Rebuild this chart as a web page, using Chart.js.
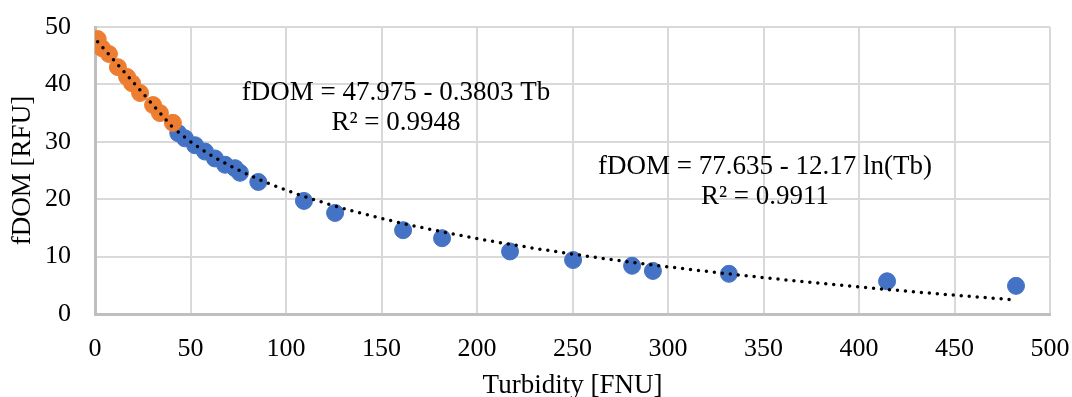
<!DOCTYPE html>
<html>
<head>
  <meta charset="utf-8" />
  <title>fDOM vs Turbidity</title>
  <script src="https://cdn.jsdelivr.net/npm/chart.js@4.4.1/dist/chart.umd.min.js"></script>
  <style>
    html, body { margin: 0; padding: 0; background: #ffffff; }
    #wrap { width: 1072px; height: 397px; }
  </style>
</head>
<body>
  <div id="wrap"><canvas id="chart"></canvas></div>
  <script>
    // orange points (low turbidity, linear fit)
    var lowTb   = [1.4, 3.7, 7.3, 12.0, 16.8, 19.4, 23.6, 30.4, 34.0, 40.8];
    var lowFdom = [47.9, 46.3, 45.3, 43.0, 41.3, 40.2, 38.5, 36.4, 35.0, 33.3];

    // blue points (log fit)
    var highTb   = [43.6, 47.1, 52.4, 57.6, 62.8, 68.1, 73.3, 75.9, 85.5, 109.4, 125.7, 161.3, 181.7, 217.3, 250.3, 281.2, 292.1, 331.9, 414.7, 482.2];
    var highFdom = [31.5, 30.6, 29.4, 28.3, 27.1, 26.0, 25.4, 24.6, 23.0, 19.7, 17.6, 14.6, 13.2, 10.9, 9.4, 8.4, 7.5, 7.0, 5.7, 4.9];

    // trendline coefficients as printed on the chart
    var linA = 47.975, linB = 0.3803;
    var logA = 77.635, logB = 12.17;

    var xTicks = [0, 50, 100, 150, 200, 250, 300, 350, 400, 450, 500];
    var yTicks = [0, 10, 20, 30, 40, 50];

    var labels = [
      { text: ["fDOM = 47.975 - 0.3803 Tb", "R² = 0.9948"], x: 157.6, y: 38.5 },
      { text: ["fDOM = 77.635 - 12.17 ln(Tb)", "R² = 0.9911"], x: 350.8, y: 25.6 }
    ];

    function pts(xs, ys) {
      return xs.map(function (x, i) { return { x: x, y: ys[i] }; });
    }

    var linLine = [lowTb[0], lowTb[lowTb.length - 1]].map(function (x) {
      return { x: x, y: linA - linB * x };
    });
    var logLine = [];
    var x0 = highTb[0], x1 = highTb[highTb.length - 1];
    for (var i = 0; i <= 120; i++) {
      var x = x0 + (x1 - x0) * i / 120;
      logLine.push({ x: x, y: logA - logB * Math.log(x) });
    }

    var FONT = "'Liberation Serif', 'Times New Roman', serif";

    var textPlugin = {
      id: 'eqText',
      afterDatasetsDraw: function (chart) {
        var ctx = chart.ctx, xs = chart.scales.x, ys = chart.scales.y;
        ctx.save();
        ctx.font = '27px ' + FONT;
        ctx.fillStyle = '#000';
        ctx.textAlign = 'center';
        ctx.textBaseline = 'middle';
        labels.forEach(function (l) {
          var px = xs.getPixelForValue(l.x), py = ys.getPixelForValue(l.y);
          l.text.forEach(function (t, k) { ctx.fillText(t, px, py + k * 30); });
        });
        ctx.restore();
      }
    };

    var dotted = {
      type: 'line', showLine: true, pointRadius: 0, borderColor: '#000',
      borderWidth: 3.5, borderDash: [0, 8], borderCapStyle: 'round', fill: false, order: 0
    };

    new Chart(document.getElementById('chart'), {
      type: 'scatter',
      data: {
        datasets: [
          Object.assign({ data: linLine }, dotted),
          Object.assign({ data: logLine }, dotted),
          { data: pts(lowTb, lowFdom), backgroundColor: '#ED7D31', borderColor: '#ED7D31', pointRadius: 8.5, order: 1 },
          { data: pts(highTb, highFdom), backgroundColor: '#4472C4', borderColor: '#4472C4', pointRadius: 8.5, order: 1 }
        ]
      },
      options: {
        responsive: true,
        maintainAspectRatio: false,
        animation: false,
        layout: { padding: { top: 27, right: 22, left: 0, bottom: 0 } },
        plugins: { legend: { display: false }, tooltip: { enabled: false } },
        scales: {
          x: {
            type: 'linear', min: 0, max: 500,
            afterBuildTicks: function (s) { s.ticks = xTicks.map(function (v) { return { value: v }; }); },
            afterFit: function (s) { s.height = 83; s.paddingLeft = 0; s.paddingRight = 0; },
            grid: { color: '#d9d9d9', lineWidth: 2, drawTicks: false },
            border: { color: '#bfbfbf', width: 3 },
            ticks: { color: '#000', font: { family: FONT, size: 26 }, padding: 20, maxRotation: 0 },
            title: { display: true, text: 'Turbidity [FNU]', color: '#000', font: { family: FONT, size: 27, lineHeight: 0.8 }, padding: { top: 4, bottom: 0 } }
          },
          y: {
            type: 'linear', min: 0, max: 50,
            afterBuildTicks: function (s) { s.ticks = yTicks.map(function (v) { return { value: v }; }); },
            afterFit: function (s) { s.width = 95; s.paddingTop = 0; s.paddingBottom = 0; },
            grid: { color: '#d9d9d9', lineWidth: 2, drawTicks: false },
            border: { color: '#bfbfbf', width: 3 },
            ticks: { color: '#000', font: { family: FONT, size: 26 }, padding: 24 },
            title: { display: true, text: 'fDOM [RFU]', color: '#000', font: { family: FONT, size: 27 }, padding: { top: 7, bottom: 0 } }
          }
        }
      },
      plugins: [textPlugin]
    });
  </script>
</body>
</html>
